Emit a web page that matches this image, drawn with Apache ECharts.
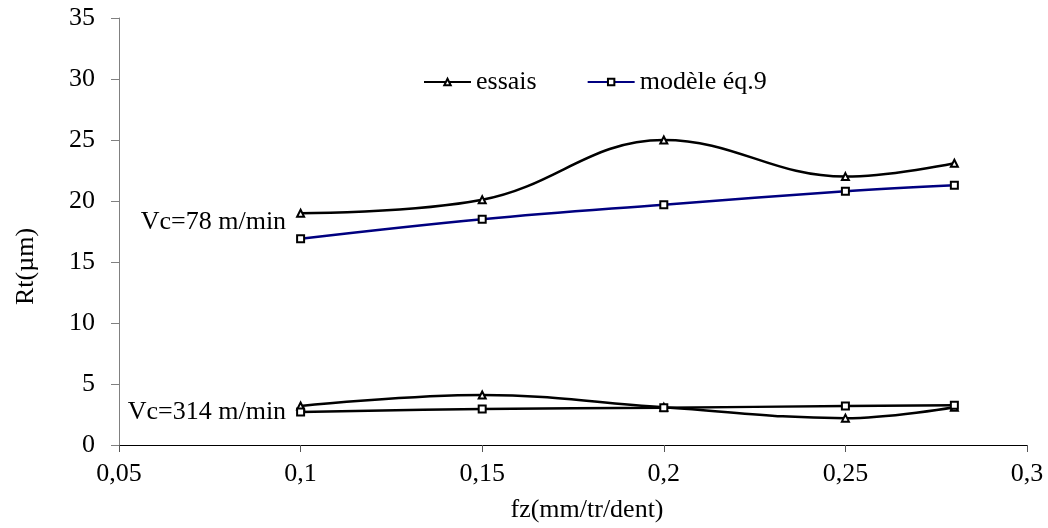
<!DOCTYPE html>
<html lang="fr">
<head>
    <meta charset="UTF-8">
    <title>Rt en fonction de fz</title>
    <script src="https://cdn.jsdelivr.net/npm/echarts@6/dist/echarts.min.js"></script>
    <style>
        html, body { margin: 0; padding: 0; background: #fff; }
        #chart { width: 1048px; height: 528px; }
    </style>
</head>
<body>
<div id="chart"></div>
<script>
    // valeurs
    var fz = [0.1, 0.15, 0.2, 0.25, 0.28];
    var essais78 = [19.0, 20.1, 25.0, 22.0, 23.1];
    var modele78 = [16.9, 18.5, 19.7, 20.8, 21.3];
    var essais314 = [3.2, 4.1, 3.1, 2.2, 3.1];
    var modele314 = [2.7, 2.95, 3.05, 3.2, 3.25];
    var labels = ['Vc=78 m/min', 'Vc=314 m/min'];

    var FONT = '"Liberation Serif", "Times New Roman", serif';
    var FS = 26;

    // construit les couples [x, y], avec une étiquette sur le premier point si besoin
    function pairs(ys, label, dy) {
        return ys.map(function (y, i) {
            var item = { value: [fz[i], y] };
            if (i === 0 && label) {
                item.label = {
                    show: true, position: 'left', distance: 10, offset: [0, dy],
                    formatter: label, color: '#000', fontFamily: FONT, fontSize: FS
                };
            }
            return item;
        });
    }

    function serie(name, ys, color, symbol, label, dy) {
        return {
            name: name,
            type: 'line',
            smooth: 0.4,
            data: pairs(ys, label, dy),
            symbol: symbol,
            symbolSize: 7,
            showAllSymbol: true,
            lineStyle: { color: color, width: 2.5 },
            itemStyle: { color: '#000', borderColor: '#000', borderWidth: 2 },
            emphasis: { disabled: true },
            z: 3
        };
    }

    var chart = echarts.init(document.getElementById('chart'));
    chart.setOption({
        animation: false,
        backgroundColor: '#fff',
        textStyle: { fontFamily: FONT },
        grid: { left: 119, right: 21, top: 18, bottom: 76 },
        legend: {
            left: 418, top: 64,
            itemWidth: 47, itemHeight: 8, itemGap: 50,
            textStyle: { fontFamily: FONT, fontSize: FS, color: '#000' },
            data: [
                { name: 'essais', lineStyle: { color: '#000' } },
                { name: 'modèle éq.9', lineStyle: { color: '#000080' } }
            ]
        },
        xAxis: {
            type: 'value',
            min: 0.05, max: 0.3, interval: 0.05,
            name: 'fz(mm/tr/dent)',
            nameLocation: 'middle',
            nameGap: 52,
            nameTextStyle: { fontFamily: FONT, fontSize: FS, color: '#000', padding: [0, 0, 0, 28] },
            axisLine: { show: true, onZero: false, lineStyle: { color: '#000', width: 1 } },
            axisTick: { show: true, length: 7, lineStyle: { color: '#555' } },
            axisLabel: {
                margin: 16, color: '#000', fontFamily: FONT, fontSize: FS,
                formatter: function (v) { return v.toFixed(2).replace(/0+$/, '').replace('.', ','); }
            },
            splitLine: { show: false }
        },
        yAxis: {
            type: 'value',
            min: 0, max: 35, interval: 5,
            name: 'Rt(µm)',
            nameLocation: 'middle',
            nameGap: 80,
            nameTextStyle: { fontFamily: FONT, fontSize: FS, color: '#000', padding: [0, 70, 0, 0] },
            axisLine: { show: true, lineStyle: { color: '#808080', width: 1 } },
            axisTick: { show: true, length: 8, lineStyle: { color: '#808080' } },
            axisLabel: { margin: 24, color: '#000', fontFamily: FONT, fontSize: FS },
            splitLine: { show: false }
        },
        series: [
            serie('essais', essais78, '#000', 'emptyTriangle', labels[0], 9),
            serie('modèle éq.9', modele78, '#000080', 'emptyRect'),
            serie('essais', essais314, '#000', 'emptyTriangle', labels[1], 6),
            serie('modèle éq.9', modele314, '#000', 'emptyRect')
        ]
    });
</script>
</body>
</html>
